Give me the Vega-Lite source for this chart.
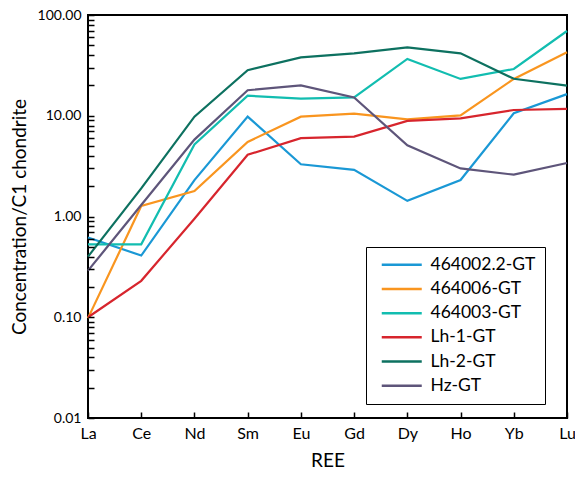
{
  "$schema": "https://vega.github.io/schema/vega-lite/v6.json",
  "autosize": "none",
  "width": 479,
  "height": 403,
  "padding": {"left": 88, "top": 15, "right": 8, "bottom": 59},
  "background": "white",
  "config": {
    "view": {"stroke": "black", "strokeWidth": 2},
    "font": "Lato"
  },
  "data": {
    "values": [
      {"sample": "464002.2-GT", "REE": "La", "value": 0.62},
      {"sample": "464002.2-GT", "REE": "Ce", "value": 0.41},
      {"sample": "464002.2-GT", "REE": "Nd", "value": 2.3},
      {"sample": "464002.2-GT", "REE": "Sm", "value": 9.8},
      {"sample": "464002.2-GT", "REE": "Eu", "value": 3.3},
      {"sample": "464002.2-GT", "REE": "Gd", "value": 2.9},
      {"sample": "464002.2-GT", "REE": "Dy", "value": 1.43},
      {"sample": "464002.2-GT", "REE": "Ho", "value": 2.3},
      {"sample": "464002.2-GT", "REE": "Yb", "value": 10.6},
      {"sample": "464002.2-GT", "REE": "Lu", "value": 16.4},
      {"sample": "464006-GT", "REE": "La", "value": 0.098},
      {"sample": "464006-GT", "REE": "Ce", "value": 1.27},
      {"sample": "464006-GT", "REE": "Nd", "value": 1.79},
      {"sample": "464006-GT", "REE": "Sm", "value": 5.5},
      {"sample": "464006-GT", "REE": "Eu", "value": 9.8},
      {"sample": "464006-GT", "REE": "Gd", "value": 10.5},
      {"sample": "464006-GT", "REE": "Dy", "value": 9.2},
      {"sample": "464006-GT", "REE": "Ho", "value": 10.1},
      {"sample": "464006-GT", "REE": "Yb", "value": 23.2},
      {"sample": "464006-GT", "REE": "Lu", "value": 42.6},
      {"sample": "464003-GT", "REE": "La", "value": 0.53},
      {"sample": "464003-GT", "REE": "Ce", "value": 0.53},
      {"sample": "464003-GT", "REE": "Nd", "value": 5.2},
      {"sample": "464003-GT", "REE": "Sm", "value": 15.8},
      {"sample": "464003-GT", "REE": "Eu", "value": 14.8},
      {"sample": "464003-GT", "REE": "Gd", "value": 15.2},
      {"sample": "464003-GT", "REE": "Dy", "value": 36.6},
      {"sample": "464003-GT", "REE": "Ho", "value": 23.2},
      {"sample": "464003-GT", "REE": "Yb", "value": 29.1},
      {"sample": "464003-GT", "REE": "Lu", "value": 69.4},
      {"sample": "Lh-1-GT", "REE": "La", "value": 0.1},
      {"sample": "Lh-1-GT", "REE": "Ce", "value": 0.23},
      {"sample": "Lh-1-GT", "REE": "Nd", "value": 0.95},
      {"sample": "Lh-1-GT", "REE": "Sm", "value": 4.1},
      {"sample": "Lh-1-GT", "REE": "Eu", "value": 6.0},
      {"sample": "Lh-1-GT", "REE": "Gd", "value": 6.2},
      {"sample": "Lh-1-GT", "REE": "Dy", "value": 8.9},
      {"sample": "Lh-1-GT", "REE": "Ho", "value": 9.4},
      {"sample": "Lh-1-GT", "REE": "Yb", "value": 11.4},
      {"sample": "Lh-1-GT", "REE": "Lu", "value": 11.7},
      {"sample": "Lh-2-GT", "REE": "La", "value": 0.4},
      {"sample": "Lh-2-GT", "REE": "Ce", "value": 1.9},
      {"sample": "Lh-2-GT", "REE": "Nd", "value": 9.8},
      {"sample": "Lh-2-GT", "REE": "Sm", "value": 28.3},
      {"sample": "Lh-2-GT", "REE": "Eu", "value": 38},
      {"sample": "Lh-2-GT", "REE": "Gd", "value": 41.6},
      {"sample": "Lh-2-GT", "REE": "Dy", "value": 47.8},
      {"sample": "Lh-2-GT", "REE": "Ho", "value": 41.6},
      {"sample": "Lh-2-GT", "REE": "Yb", "value": 23.3},
      {"sample": "Lh-2-GT", "REE": "Lu", "value": 19.9},
      {"sample": "Hz-GT", "REE": "La", "value": 0.29},
      {"sample": "Hz-GT", "REE": "Ce", "value": 1.3},
      {"sample": "Hz-GT", "REE": "Nd", "value": 5.8},
      {"sample": "Hz-GT", "REE": "Sm", "value": 17.9},
      {"sample": "Hz-GT", "REE": "Eu", "value": 20},
      {"sample": "Hz-GT", "REE": "Gd", "value": 15.2},
      {"sample": "Hz-GT", "REE": "Dy", "value": 5.1},
      {"sample": "Hz-GT", "REE": "Ho", "value": 3.0},
      {"sample": "Hz-GT", "REE": "Yb", "value": 2.6},
      {"sample": "Hz-GT", "REE": "Lu", "value": 3.4}
    ]
  },
  "mark": {"type": "line", "strokeWidth": 2.2},
  "encoding": {
    "x": {
      "field": "REE",
      "type": "ordinal",
      "sort": ["La", "Ce", "Nd", "Sm", "Eu", "Gd", "Dy", "Ho", "Yb", "Lu"],
      "scale": {"type": "point", "padding": 0},
      "axis": {
        "title": "REE",
        "titleFontSize": 19,
        "titleFontWeight": "normal",
        "titlePadding": 10,
        "labelAngle": 0,
        "labelFontSize": 16,
        "labelColor": "black",
        "labelPadding": 7,
        "offset": -6,
        "ticks": true,
        "tickSize": 6,
        "tickWidth": 1.5,
        "tickColor": "black",
        "tickOpacity": 1,
        "zindex": 1,
        "domain": false,
        "grid": false
      }
    },
    "y": {
      "field": "value",
      "type": "quantitative",
      "scale": {"type": "log", "domain": [0.01, 100], "nice": false},
      "axis": {
        "title": "Concentration/C1 chondrite",
        "titleFontSize": 19,
        "titleFontWeight": "normal",
        "titlePadding": 8,
        "labelFontSize": 14,
        "labelColor": "black",
        "labelPadding": 7,
        "offset": -6,
        "values": [0.01, 0.02, 0.03, 0.04, 0.05, 0.06, 0.07, 0.08, 0.09, 0.1, 0.2, 0.3, 0.4, 0.5, 0.6, 0.7, 0.8, 0.9, 1, 2, 3, 4, 5, 6, 7, 8, 9, 10, 20, 30, 40, 50, 60, 70, 80, 90, 100],
        "labelExpr": "indexof([0.01,0.1,1,10,100], datum.value) >= 0 ? format(datum.value, '.2f') : ''",
        "ticks": true,
        "tickSize": 6,
        "tickWidth": 1.5,
        "tickColor": "black",
        "tickOpacity": 1,
        "zindex": 1,
        "domain": false,
        "grid": false,
        "labelOverlap": false
      }
    },
    "color": {
      "field": "sample",
      "type": "nominal",
      "scale": {
        "domain": ["464002.2-GT", "464006-GT", "464003-GT", "Lh-1-GT", "Lh-2-GT", "Hz-GT"],
        "range": ["#1a98d5", "#f9951f", "#12bdb0", "#d7252d", "#0d7160", "#5e557a"]
      },
      "legend": {
        "title": null,
        "orient": "none",
        "legendX": 278,
        "legendY": 232,
        "padding": 9,
        "strokeColor": "black",
        "fillColor": "white",
        "symbolType": "M-4,0H4",
        "symbolSize": 100,
        "symbolStrokeWidth": 2.5,
        "symbolOffset": 18,
        "labelFontSize": 17.5,
        "labelColor": "black",
        "labelOffset": 20,
        "labelLimit": 200,
        "rowPadding": 5.2
      }
    }
  }
}
